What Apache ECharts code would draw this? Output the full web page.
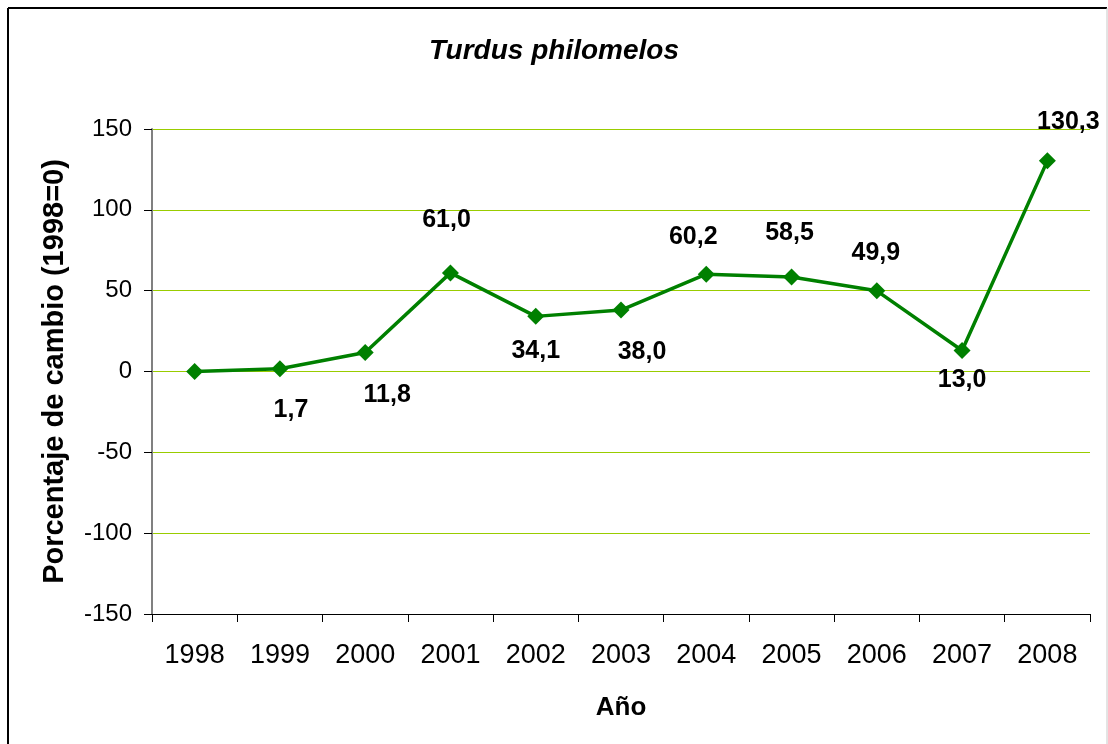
<!DOCTYPE html>
<html>
<head>
<meta charset="utf-8">
<script src="https://cdn.jsdelivr.net/npm/echarts@6/dist/echarts.min.js"></script>
<style>
  html, body { margin: 0; padding: 0; background: #fff; }
  #chart { width: 1108px; height: 744px; }
</style>
</head>
<body>
<div id="chart"></div>
<script>
// Turdus philomelos: percentage change relative to 1998
const years = ['1998', '1999', '2000', '2001', '2002', '2003', '2004', '2005', '2006', '2007', '2008'];
const changePct = [0, 1.7, 11.8, 61.0, 34.1, 38.0, 60.2, 58.5, 49.9, 13.0, 130.3];
const yTicks = [-150, -100, -50, 0, 50, 100, 150];

// label placement per point: [dx, dy] in pixels from the marker, null = no label
const labelOffsets = [null, [11, 41], [22, 43], [-4, -53], [0, 35], [21, 42], [-13, -37], [-2, -44], [-1, -38], [0, 30], [21, -39]];

const FONT = 'Liberation Sans, Arial, sans-serif';

const chart = echarts.init(document.getElementById('chart'), null, { renderer: 'canvas' });

const points = changePct.map((v, i) => {
  const off = labelOffsets[i];
  const item = { value: v };
  item.label = off ? { show: true, position: 'inside', offset: off } : { show: false };
  return item;
});

chart.setOption({
  animation: false,
  backgroundColor: '#ffffff',
  title: {
    text: 'Turdus philomelos',
    left: 'center',
    top: 32,
    textStyle: { fontFamily: FONT, fontSize: 28, fontStyle: 'italic', fontWeight: 'bold', color: '#000' }
  },
  grid: { left: 152, right: 18, top: 129, bottom: 130, containLabel: false },
  xAxis: {
    type: 'category',
    data: years,
    boundaryGap: true,
    name: 'Año',
    nameLocation: 'middle',
    nameGap: 81,
    nameTextStyle: { fontFamily: FONT, fontSize: 26, fontWeight: 'bold', color: '#000' },
    axisLine: { onZero: false, lineStyle: { color: '#000', width: 1 } },
    axisTick: { show: true, length: 8, lineStyle: { color: '#000' } },
    axisLabel: { fontFamily: FONT, fontSize: 27, color: '#000', margin: 28 },
    splitLine: { show: false }
  },
  yAxis: {
    type: 'value',
    min: yTicks[0],
    max: yTicks[yTicks.length - 1],
    interval: 50,
    name: 'Porcentaje de cambio (1998=0)',
    nameLocation: 'middle',
    nameGap: 83,
    nameTextStyle: { fontFamily: FONT, fontSize: 29, fontWeight: 'bold', color: '#000' },
    axisLine: { show: true, lineStyle: { color: '#808080', width: 2 } },
    axisTick: { show: true, length: 8, lineStyle: { color: '#000' } },
    axisLabel: { fontFamily: FONT, fontSize: 24, color: '#000', margin: 20 },
    splitLine: { show: true, lineStyle: { color: '#99cc00', width: 1 } }
  },
  series: [{
    type: 'line',
    data: points,
    symbol: 'diamond',
    symbolSize: 17,
    lineStyle: { color: '#008000', width: 3.5 },
    itemStyle: { color: '#008000' },
    label: {
      fontFamily: FONT,
      fontSize: 25,
      fontWeight: 'bold',
      color: '#000',
      formatter: p => p.value.toFixed(1).replace('.', ',')
    },
    z: 3
  }],
  graphic: [
    { type: 'line', shape: { x1: 8, y1: 8, x2: 1107, y2: 8 }, style: { stroke: '#000', lineWidth: 2 } },
    { type: 'line', shape: { x1: 8, y1: 8, x2: 8, y2: 744 }, style: { stroke: '#000', lineWidth: 2 } },
    { type: 'line', shape: { x1: 1107, y1: 8, x2: 1107, y2: 744 }, style: { stroke: '#c8c8c8', lineWidth: 1 } }
  ]
});
</script>
</body>
</html>
